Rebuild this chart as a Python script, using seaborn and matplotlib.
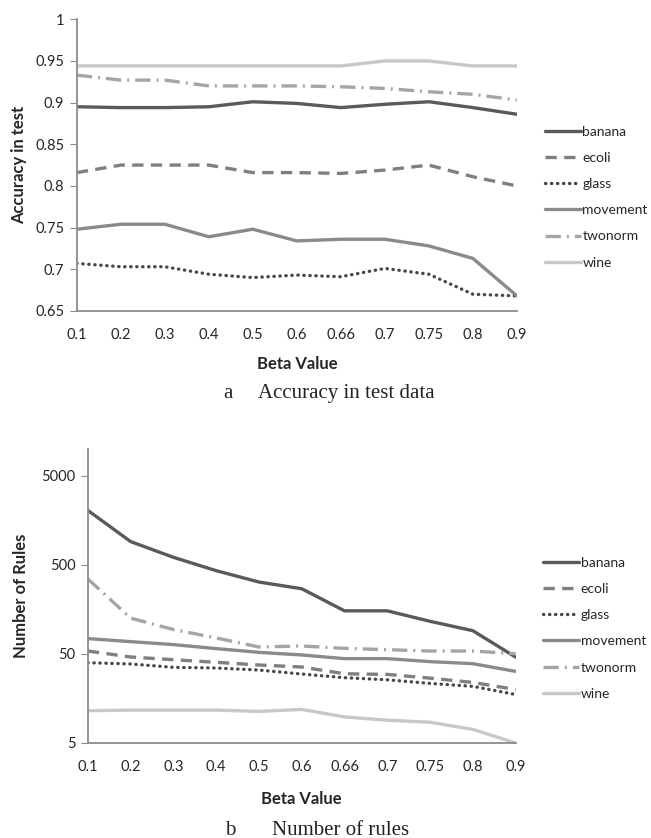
import matplotlib
matplotlib.use("Agg")
import matplotlib.pyplot as plt
import numpy as np
import pandas as pd
import seaborn as sns

beta = ["0.1", "0.2", "0.3", "0.4", "0.5", "0.6", "0.66", "0.7", "0.75", "0.8", "0.9"]
datasets = ["banana", "ecoli", "glass", "movement", "twonorm", "wine"]

# accuracy in test data
acc_banana = [0.895, 0.894, 0.894, 0.895, 0.901, 0.899, 0.894, 0.898, 0.901, 0.894, 0.886]
acc_ecoli = [0.816, 0.825, 0.825, 0.825, 0.816, 0.816, 0.815, 0.819, 0.825, 0.811, 0.800]
acc_glass = [0.707, 0.703, 0.703, 0.694, 0.690, 0.693, 0.691, 0.701, 0.694, 0.670, 0.668]
acc_movement = [0.748, 0.754, 0.754, 0.739, 0.748, 0.734, 0.736, 0.736, 0.728, 0.713, 0.668]
acc_twonorm = [0.933, 0.927, 0.927, 0.920, 0.920, 0.920, 0.919, 0.917, 0.913, 0.910, 0.903]
acc_wine = [0.944, 0.944, 0.944, 0.944, 0.944, 0.944, 0.944, 0.950, 0.950, 0.944, 0.944]

# number of rules
rules_banana = [2035, 910, 606, 429, 320, 269, 152, 152, 116, 91, 46]
rules_ecoli = [53.8, 46.1, 43, 40.2, 37.5, 35.6, 29.9, 29.4, 26.7, 23.9, 19.9]
rules_glass = [39.8, 38.5, 35.3, 34.7, 32.9, 29.7, 27, 25.6, 23.3, 21.6, 17.5]
rules_movement = [74.2, 68.6, 63.5, 57.3, 52, 48.6, 44.2, 44.2, 40.9, 38.8, 31.8]
rules_twonorm = [346, 126, 93.7, 75.5, 59.7, 61.3, 57.7, 55.7, 53.8, 53.8, 50.2]
rules_wine = [11.5, 11.7, 11.7, 11.7, 11.3, 11.9, 9.8, 9.0, 8.55, 7.1, 5.0]

acc = [acc_banana, acc_ecoli, acc_glass, acc_movement, acc_twonorm, acc_wine]
rules = [rules_banana, rules_ecoli, rules_glass, rules_movement, rules_twonorm, rules_wine]


def long_df(series):
    rows = []
    for name, vals in zip(datasets, series):
        for i, v in enumerate(vals):
            rows.append({"pos": i, "value": v, "dataset": name})
    return pd.DataFrame(rows)


sns.set_style("white")
plt.rcParams["font.family"] = ["Lato", "DejaVu Sans"]

palette = {"banana": "#5a5a5a", "ecoli": "#7f7f7f", "glass": "#474747",
           "movement": "#8a8a8a", "twonorm": "#a5a5a5", "wine": "#c8c8c8"}
dashes = {"banana": "", "ecoli": (3.4, 2.2), "glass": (0.1, 1.7),
          "movement": "", "twonorm": (4.6, 1.8, 0.6, 1.8), "wine": ""}

fig = plt.figure(figsize=(6.51, 8.38), dpi=100)
ax1 = fig.add_axes([0.118, 0.629, 0.676, 0.348])
ax2 = fig.add_axes([0.135, 0.1134, 0.657, 0.351])

for ax, series in [(ax1, acc), (ax2, rules)]:
    sns.lineplot(data=long_df(series), x="pos", y="value", hue="dataset", style="dataset",
                 palette=palette, dashes=dashes, linewidth=2.4, ax=ax, sort=False)
    ax.set_xlim(0, len(beta) - 1)
    ax.set_xticks(range(len(beta)))
    ax.set_xticklabels(beta)
    for s in ["top", "right"]:
        ax.spines[s].set_visible(False)
    for s in ["left", "bottom"]:
        ax.spines[s].set_color("#8c8c8c")
        ax.spines[s].set_linewidth(1.3)
    ax.tick_params(axis="y", left=True, length=5, color="#8c8c8c", labelsize=10.5, pad=4)
    ax.tick_params(axis="x", bottom=False, labelsize=10.5, pad=9)
    handles, labels = ax.get_legend_handles_labels()
    ax.legend(handles, labels, loc="center left", bbox_to_anchor=(1.035, 0.39),
              frameon=False, fontsize=10, handlelength=2.6, handletextpad=0.1,
              labelspacing=1.02)
    for h in ax.get_legend().get_lines():
        h.set_linewidth(2.4)
    # round caps only for the dotted series
    for line in list(ax.get_lines()) + list(ax.get_legend().get_lines()):
        if line.get_label() == "glass" or line.get_color() == "#474747":
            line.set_dash_capstyle("round")

ax1.set_ylim(0.65, 1.0)
ax1.set_yticks([0.65, 0.7, 0.75, 0.8, 0.85, 0.9, 0.95, 1.0])
ax1.set_yticklabels(["0.65", "0.7", "0.75", "0.8", "0.85", "0.9", "0.95", "1"])
ax1.set_ylabel("Accuracy in test", fontsize=12, fontweight="bold", labelpad=6)
ax1.set_xlabel("Beta Value", fontsize=12, fontweight="bold", labelpad=10)

ax2.set_yscale("log")
ax2.set_ylim(5, 10000)
ax2.set_yticks([5, 50, 500, 5000])
ax2.set_yticklabels(["5", "50", "500", "5000"])
ax2.minorticks_off()
ax2.set_ylabel("Number of Rules", fontsize=12, fontweight="bold", labelpad=9)
ax2.set_xlabel("Beta Value", fontsize=12, fontweight="bold", labelpad=12)

fig.text(0.343, 1 - 393 / 838, "a", fontsize=15, family="Liberation Serif", ha="left", va="center")
fig.text(0.396, 1 - 393 / 838, "Accuracy in test data", fontsize=15,
         family="Liberation Serif", ha="left", va="center", color="#222222")
fig.text(0.345, 1 - 830 / 838, "b", fontsize=15, family="Liberation Serif", ha="left", va="center")
fig.text(0.418, 1 - 830 / 838, "Number of rules", fontsize=15,
         family="Liberation Serif", ha="left", va="center", color="#222222")

fig.savefig("out.png", dpi=100)
